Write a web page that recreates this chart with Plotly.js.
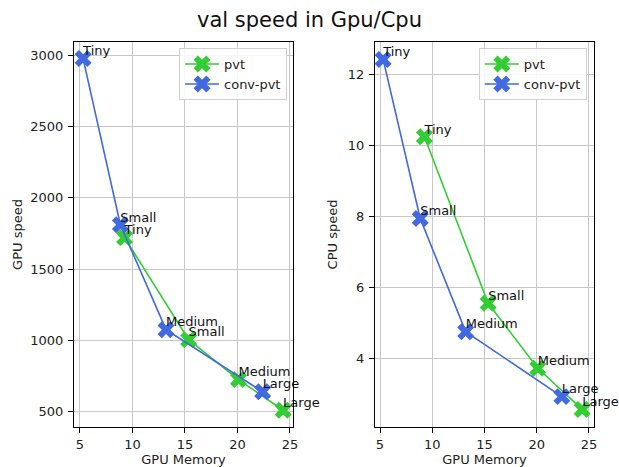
<!DOCTYPE html>
<html><head><meta charset="utf-8">
<script src="https://cdn.plot.ly/plotly-3.0.1.min.js"></script>
<style>html,body{margin:0;padding:0;background:#fff;}#chart{width:619px;height:467px;}</style>
</head><body><div id="chart"></div>
<script>
const models = ["Tiny", "Small", "Medium", "Large"];
const pvtMemory = [9.25, 15.35, 20.1, 24.35];
const convMemory = [5.3, 8.85, 13.2, 22.4];
const pvtGpuSpeed = [1720, 1005, 725, 510];
const convGpuSpeed = [2975, 1810, 1075, 640];
const pvtCpuSpeed = [10.24, 5.55, 3.72, 2.56];
const convCpuSpeed = [12.42, 7.94, 4.75, 2.92];

const green = "#32CD32", blue = "#4169E1";
const font = {family: "DejaVu Sans, sans-serif", size: 13, color: "#222"};

function series(x, y, name, color, xa, ya, legend, showlegend) {
  return {x, y, name, type: "scatter", mode: "lines+markers", xaxis: xa, yaxis: ya,
    legend, showlegend,
    line: {color, width: 1.6},
    marker: {symbol: "x", size: 15, color, line: {width: 0}}};
}
function labels(x, y, xa, ya) {
  return {x, y, text: models, type: "scatter", mode: "text", xaxis: xa, yaxis: ya,
    textposition: "top right", showlegend: false, cliponaxis: false, hoverinfo: "skip",
    textfont: {family: font.family, size: 13, color: "#111"}};
}
const data = [
  series(pvtMemory, pvtGpuSpeed, "pvt", green, "x", "y", "legend", true),
  series(convMemory, convGpuSpeed, "conv-pvt", blue, "x", "y", "legend", true),
  labels(pvtMemory, pvtGpuSpeed, "x", "y"),
  labels(convMemory, convGpuSpeed, "x", "y"),
  series(pvtMemory, pvtCpuSpeed, "pvt", green, "x2", "y2", "legend2", true),
  series(convMemory, convCpuSpeed, "conv-pvt", blue, "x2", "y2", "legend2", true),
  labels(pvtMemory, pvtCpuSpeed, "x2", "y2"),
  labels(convMemory, convCpuSpeed, "x2", "y2")
];
function axis(extra) {
  return Object.assign({showline: true, mirror: true, linecolor: "#000", linewidth: 1,
    ticks: "outside", ticklen: 5, tickcolor: "#000", showgrid: true, gridcolor: "#c8c8c8",
    gridwidth: 1, zeroline: false, tickfont: font}, extra);
}
const legendBase = {bgcolor: "rgba(255,255,255,0.85)", bordercolor: "#d0d0d0", borderwidth: 1,
  font: {family: font.family, size: 13, color: "#222"}, xanchor: "right", yanchor: "top",
  tracegroupgap: 0, itemwidth: 34};
const layout = {
  width: 619, height: 467, paper_bgcolor: "#fff", plot_bgcolor: "#fff",
  margin: {l: 0, r: 0, t: 0, b: 0},
  title: {text: "val speed in Gpu/Cpu", x: 0.5, xanchor: "center", y: 0.957, yanchor: "middle",
    font: {family: font.family, size: 21, color: "#111"}},
  xaxis: axis({domain: [0.1195, 0.4733], range: [4.43, 25.29], tickvals: [5, 10, 15, 20, 25], anchor: "y",
    title: {text: "GPU Memory", font: font, standoff: 6}}),
  yaxis: axis({domain: [0.0857, 0.910], range: [393, 3091], tickvals: [500, 1000, 1500, 2000, 2500, 3000], anchor: "x",
    ticklabelstandoff: 2, title: {text: "GPU speed", font: font, standoff: 4}}),
  xaxis2: axis({domain: [0.6058, 0.9596], range: [4.52, 25.48], tickvals: [5, 10, 15, 20, 25], anchor: "y2",
    title: {text: "GPU Memory", font: font, standoff: 6}}),
  yaxis2: axis({domain: [0.0857, 0.910], range: [2.065, 12.91], tickvals: [4, 6, 8, 10, 12], anchor: "x2",
    ticklabelstandoff: 2, title: {text: "CPU speed", font: font, standoff: 7}}),
  legend: Object.assign({}, legendBase, {x: 0.4637, y: 0.897}),
  legend2: Object.assign({}, legendBase, {x: 0.948, y: 0.897}),
  showlegend: true
};
Plotly.newPlot("chart", data, layout, {staticPlot: true});
</script></body></html>
